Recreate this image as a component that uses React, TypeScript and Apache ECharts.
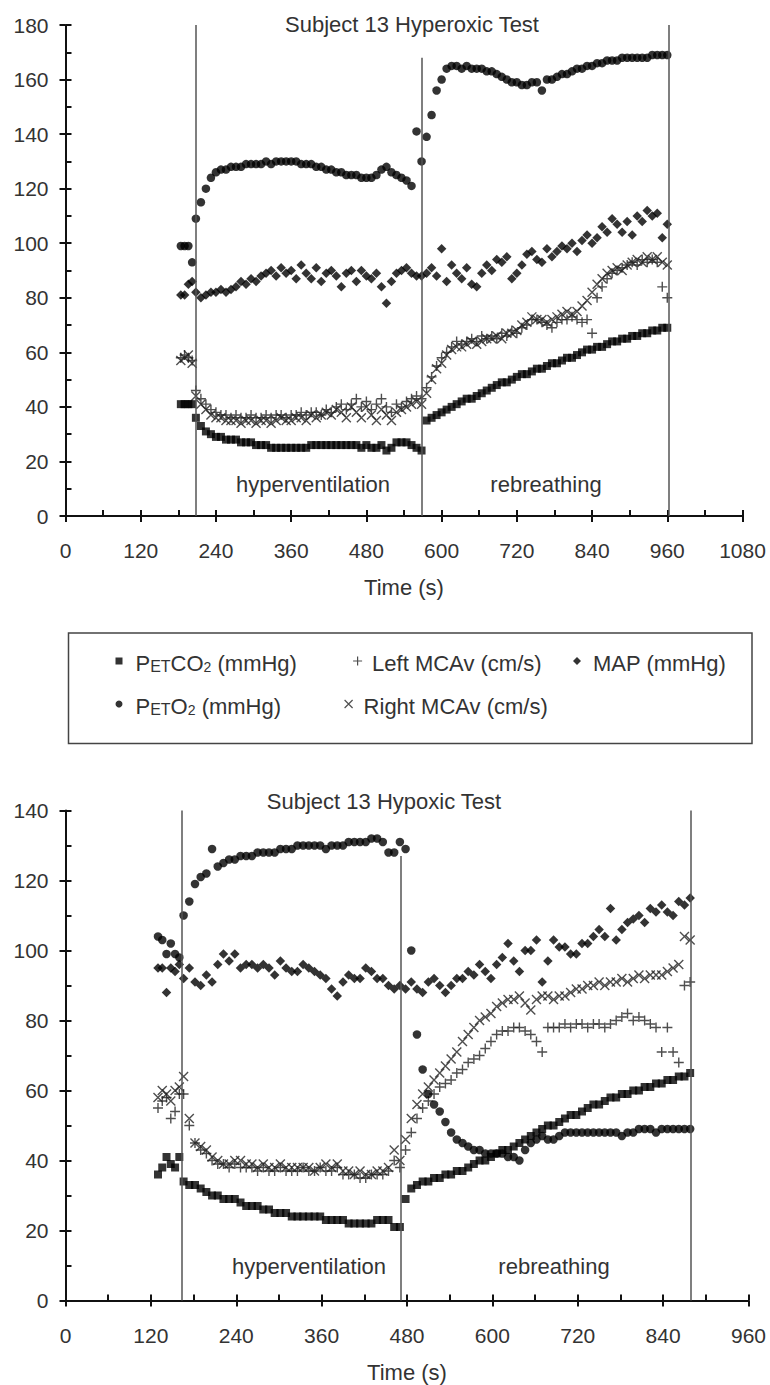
import { useEffect, useRef } from 'react';
import * as echarts from 'echarts';

const FONT = '"Liberation Sans", Arial, Helvetica, sans-serif';

// ---------------- Subject 13 Hyperoxic Test ----------------
const hyperTimes = [
  184, 190, 196, 202,
  208, 216, 224, 232, 240, 248, 256, 264, 272, 280,
  288, 296, 304, 312, 320, 328, 336, 344, 352, 360,
  368, 376, 384, 392, 400, 408, 416, 424, 432, 440,
  448, 456, 464, 472, 480, 488, 496, 504, 512, 520,
  528, 536, 544, 552, 560, 568, 576, 584, 592, 600,
  608, 616, 624, 632, 640, 648, 656, 664, 672, 680,
  688, 696, 704, 712, 720, 728, 736, 744, 752, 760,
  768, 776, 784, 792, 800, 808, 816, 824, 832, 840,
  848, 856, 864, 872, 880, 888, 896, 904, 912, 920,
  928, 936, 944, 952, 960,
];
const hyperPeto2 = [
  99, 99, 99, 93,
  109, 115, 120, 124, 126, 127, 127, 128, 128, 128,
  129, 129, 129, 129, 130, 129, 130, 130, 130, 130,
  130, 129, 129, 129, 128, 128, 127, 127, 126, 126,
  125, 125, 125, 124, 124, 124, 125, 127, 128, 126,
  125, 124, 123, 121, 141, 130, 139, 147, 156, 160,
  164, 165, 165, 164, 165, 164, 164, 164, 163, 163,
  162, 161, 160, 159, 159, 158, 158, 159, 159, 156,
  160, 160, 161, 162, 162, 163, 164, 164, 165, 165,
  166, 166, 167, 167, 167, 168, 168, 168, 168, 168,
  168, 169, 169, 169, 169,
];
const hyperMap = [
  81, 81, 85, 86,
  82, 80, 81, 82, 82, 83, 82, 83, 84, 86,
  85, 87, 86, 88, 89, 90, 88, 91, 89, 90,
  87, 92, 89, 87, 91, 86, 89, 90, 88, 84,
  89, 90, 86, 90, 88, 87, 89, 84, 78, 86,
  89, 90, 91, 89, 88, 88, 89, 91, 88, 98,
  86, 92, 89, 87, 91, 85, 84, 89, 92, 90,
  94, 93, 95, 87, 89, 92, 96, 97, 94, 93,
  98, 95, 97, 99, 98, 100, 97, 101, 103, 100,
  102, 106, 104, 109, 107, 104, 108, 103, 110, 108,
  112, 110, 111, 102, 107,
];
const hyperLeftMcav = [
  58, 59, 58, 57,
  46, 43, 41, 39, 38, 37, 37, 36, 37, 36,
  36, 37, 36, 36, 37, 36, 37, 37, 36, 37,
  37, 38, 37, 38, 38, 37, 39, 38, 40, 41,
  39, 41, 43, 40, 42, 39, 41, 43, 40, 38,
  41, 40, 42, 43, 44, 43, 47, 51, 55, 58,
  60, 62, 64, 63, 64, 65, 64, 66, 65, 66,
  65, 67, 66, 68, 67, 69, 70, 72, 72, 71,
  70, 69, 71, 72, 72, 73, 72, 71, 72, 67,
  80, 84, 87, 89, 90, 91, 92, 93, 92, 94,
  93, 94, 93, 84, 80,
];
const hyperRightMcav = [
  57, 58, 59, 56,
  44, 41, 39, 37, 36, 36, 35, 35, 35, 34,
  35, 35, 34, 35, 35, 34, 35, 36, 35, 35,
  36, 36, 35, 37, 36, 37, 38, 37, 39, 38,
  36, 40, 38, 36, 40, 37, 35, 39, 37, 35,
  38, 39, 40, 41, 42, 41, 45, 50, 54, 56,
  59, 61, 62, 62, 63, 64, 63, 64, 65, 65,
  66, 65, 67, 67, 68, 70, 71, 73, 72, 72,
  71, 72, 73, 74, 75, 74, 75, 77, 79, 82,
  85, 87, 89, 90, 91, 90, 92, 93, 94, 93,
  95, 94, 95, 93, 92,
];
const hyperPetco2 = [
  41, 41, 41, 41,
  36, 33, 31, 30, 29, 29, 28, 28, 28, 27,
  27, 27, 26, 26, 26, 25, 25, 25, 25, 25,
  25, 25, 25, 26, 26, 26, 26, 26, 26, 26,
  26, 26, 26, 25, 26, 25, 25, 26, 24, 25,
  27, 27, 27, 26, 25, 24, 35, 36, 37, 38,
  39, 40, 41, 42, 43, 43, 44, 45, 46, 47,
  48, 49, 49, 50, 51, 52, 52, 53, 54, 54,
  55, 56, 56, 57, 58, 58, 59, 60, 61, 61,
  62, 62, 63, 64, 64, 65, 65, 66, 66, 67,
  67, 68, 68, 69, 69,
];
const hyperPhaseLines = [207, 568, 963];
const hyperPhaseTops = [180, 168, 180];

// ---------------- Subject 13 Hypoxic Test ----------------
const hypoTimes = [
  130, 136, 142, 148, 154, 160,
  166, 174, 182, 190, 198, 206, 214, 222, 230, 238,
  246, 254, 262, 270, 278, 286, 294, 302, 310, 318,
  326, 334, 342, 350, 358, 366, 374, 382, 390, 398,
  406, 414, 422, 430, 438, 446, 454, 462, 470, 478,
  486, 494, 502, 510, 518, 526, 534, 542, 550, 558,
  566, 574, 582, 590, 598, 606, 614, 622, 630, 638,
  646, 654, 662, 670, 678, 686, 694, 702, 710, 718,
  726, 734, 742, 750, 758, 766, 774, 782, 790, 798,
  806, 814, 822, 830, 838, 846, 854, 862, 870, 878,
];
const hypoPeto2 = [
  104, 103, 99, 102, 99, 98,
  110, 114, 119, 121, 122, 129, 124, 125, 126, 126,
  127, 127, 127, 128, 128, 128, 128, 129, 129, 129,
  130, 130, 130, 130, 130, 129, 130, 130, 130, 131,
  131, 131, 131, 132, 132, 131, 128, 128, 131, 129,
  100, 76, 66, 59, 56, 54, 51, 48, 46, 45,
  44, 43, 43, 42, 42, 42, 42, 41, 41, 40,
  43, 45, 46, 47, 46, 46, 47, 48, 48, 48,
  48, 48, 48, 48, 48, 48, 48, 47, 48, 48,
  49, 49, 49, 48, 49, 49, 49, 49, 49, 49,
];
const hypoPetco2 = [
  36, 38, 41, 39, 38, 41,
  34, 33, 33, 32, 31, 30, 30, 29, 29, 29,
  28, 27, 27, 27, 26, 26, 25, 25, 25, 24,
  24, 24, 24, 24, 24, 23, 23, 23, 23, 22,
  22, 22, 22, 22, 23, 23, 23, 21, 21, 29,
  32, 33, 34, 34, 35, 35, 36, 36, 37, 37,
  38, 39, 40, 40, 41, 42, 43, 43, 44, 45,
  46, 47, 48, 49, 50, 50, 51, 52, 53, 53,
  54, 55, 56, 56, 57, 58, 58, 59, 59, 60,
  60, 61, 61, 62, 62, 63, 63, 64, 64, 65,
];
const hypoMap = [
  95, 95, 88, 95, 94, 96,
  92, 95, 91, 90, 93, 91, 96, 99, 97, 99,
  95, 96, 96, 95, 96, 95, 93, 97, 95, 94,
  94, 96, 95, 94, 93, 92, 89, 87, 91, 93,
  92, 92, 95, 94, 92, 92, 90, 89, 90, 89,
  91, 89, 88, 91, 92, 90, 88, 90, 92, 92,
  94, 93, 96, 94, 92, 96, 98, 102, 97, 94,
  100, 100, 103, 91, 97, 103, 101, 101, 99, 99,
  102, 102, 104, 106, 104, 112, 103, 106, 108, 109,
  110, 108, 112, 111, 113, 111, 110, 114, 113, 115,
];
const hypoLeftMcav = [
  55, 57, 58, 52, 54, 59,
  59, 50, 45, 43, 42, 40, 39, 39, 38, 39,
  38, 38, 38, 37, 38, 37, 37, 38, 37, 37,
  37, 38, 37, 37, 38, 37, 37, 38, 36, 36,
  36, 35, 35, 36, 36, 36, 37, 40, 38, 43,
  48, 52, 55, 57, 59, 61, 62, 63, 65, 66,
  68, 69, 70, 72, 74, 76, 77, 77, 78, 78,
  77, 76, 74, 71, 78, 78, 78, 79, 78, 79,
  79, 78, 79, 79, 78, 79, 80, 81, 82, 80,
  81, 80, 79, 78, 71, 78, 71, 68, 90, 91,
];
const hypoRightMcav = [
  58, 60, 59, 57, 60, 61,
  64, 52, 45, 44, 43, 41, 40, 39, 39, 40,
  40, 39, 39, 38, 39, 38, 38, 39, 38, 38,
  38, 38, 38, 37, 38, 39, 38, 39, 37, 37,
  36, 37, 36, 36, 37, 37, 38, 43, 40, 46,
  52, 56, 59, 61, 63, 65, 67, 69, 71, 74,
  76, 78, 80, 81, 82, 84, 85, 86, 86, 87,
  85, 83, 86, 87, 87, 86, 87, 87, 88, 89,
  89, 90, 90, 91, 90, 91, 91, 92, 91, 92,
  93, 92, 93, 93, 93, 94, 95, 96, 104, 103,
];
const hypoPhaseLines = [164, 471, 879];
const hypoPhaseTops = [140, 127, 140];

const NAME_PETCO2 = 'PETCO2 (mmHg)';
const NAME_LEFT = 'Left MCAv (cm/s)';
const NAME_MAP = 'MAP (mmHg)';
const NAME_PETO2 = 'PETO2 (mmHg)';
const NAME_RIGHT = 'Right MCAv (cm/s)';

const PLUS = 'path://M5,0L5,10M0,5L10,5';
const CROSS = 'path://M0,0L10,10M10,0L0,10';

const TEXT = '#333';
const AXIS = '#111';
const MARK_STROKE = '#222';

function pairs(times: number[], vals: number[]) {
  return times.map((t, i) => [t, vals[i]]);
}

function phaseMarkLine(lines: number[], tops: number[]) {
  return {
    silent: true,
    symbol: ['none', 'none'],
    label: { show: false },
    lineStyle: { color: '#555', width: 1.5, type: 'solid' },
    emphasis: { disabled: true },
    animation: false,
    data: lines.map((x, i) => [{ coord: [x, 0] }, { coord: [x, tops[i]] }]),
  };
}

function buildSeries(
  axisIndex: number,
  times: number[],
  petco2: number[],
  peto2: number[],
  map: number[],
  left: number[],
  right: number[],
  lines: number[],
  tops: number[]
) {
  const base = {
    type: 'scatter',
    xAxisIndex: axisIndex,
    yAxisIndex: axisIndex,
    animation: false,
    emphasis: { disabled: true },
  };
  const stroke = { color: 'transparent', borderColor: MARK_STROKE, borderWidth: 1.4 };
  return [
    { ...base, name: NAME_LEFT, symbol: PLUS, symbolSize: 10, itemStyle: stroke, data: pairs(times, left) },
    { ...base, name: NAME_RIGHT, symbol: CROSS, symbolSize: 9, itemStyle: stroke, data: pairs(times, right) },
    {
      ...base,
      name: NAME_PETCO2,
      symbol: 'rect',
      symbolSize: 8,
      itemStyle: { color: '#000' },
      data: pairs(times, petco2),
      markLine: phaseMarkLine(lines, tops),
    },
    { ...base, name: NAME_MAP, symbol: 'diamond', symbolSize: [9.5, 9.5], itemStyle: { color: '#000' }, data: pairs(times, map) },
    { ...base, name: NAME_PETO2, symbol: 'circle', symbolSize: 8.5, itemStyle: { color: '#000' }, data: pairs(times, peto2) },
  ];
}

function axisPair(gridIndex: number, max: number, interval: number, isX: boolean, name?: string, nameGap?: number) {
  const tickStyle = { color: AXIS, width: 2 };
  const position = isX ? 'bottom' : 'left';
  const primary: any = {
    type: 'value',
    gridIndex,
    position,
    offset: 0,
    min: 0,
    max,
    interval,
    axisLine: { show: true, onZero: false, lineStyle: { color: AXIS, width: 2 } },
    axisTick: { show: true, inside: false, length: 6, lineStyle: tickStyle },
    axisLabel: {
      show: true,
      color: TEXT,
      fontSize: 21,
      fontFamily: FONT,
      margin: isX ? 24 : 17,
      formatter: (v: number) => String(v),
    },
    splitLine: { show: false },
  };
  if (name) {
    primary.name = name;
    primary.nameLocation = 'middle';
    primary.nameGap = nameGap;
    primary.nameTextStyle = { color: TEXT, fontSize: 22, fontFamily: FONT };
  }
  const secondary: any = {
    type: 'value',
    gridIndex,
    position,
    offset: 0,
    min: 0,
    max,
    interval,
    axisLine: { show: false, onZero: false },
    axisTick: { show: true, inside: true, length: 6, lineStyle: tickStyle },
    minorTick: { show: true, splitNumber: 2, length: 6, lineStyle: tickStyle },
    axisLabel: { show: false },
    splitLine: { show: false },
  };
  return [primary, secondary];
}

const richStyles = {
  n: { fontSize: 22, fontFamily: FONT, color: TEXT, lineHeight: 26, verticalAlign: 'bottom' },
  s: { fontSize: 16, fontFamily: FONT, color: TEXT, lineHeight: 22, verticalAlign: 'bottom' },
  b: { fontSize: 14, fontFamily: FONT, color: TEXT, lineHeight: 3, verticalAlign: 'bottom' },
};

function legendLabel(name: string) {
  if (name === NAME_PETCO2) return '{n|P}{s|ET}{n|CO}{b|2}{n| (mmHg)}';
  if (name === NAME_PETO2) return '{n|P}{s|ET}{n|O}{b|2}{n| (mmHg)}';
  return '{n|' + name + '}';
}

function legendItem(name: string, icon: string, cx: number, cy: number, size: number, gap: number, stroked: boolean) {
  return {
    data: [
      {
        name,
        icon,
        itemStyle: stroked
          ? { color: 'transparent', borderColor: MARK_STROKE, borderWidth: 1.2 }
          : { color: '#000', borderWidth: 0 },
      },
    ],
    left: cx - size / 2,
    top: cy - 13,
    padding: 0,
    itemWidth: size,
    itemHeight: size,
    selectedMode: false,
    formatter: legendLabel,
    textStyle: { padding: [0, 0, 0, gap], rich: richStyles },
  };
}

export default function App() {
  const ref = useRef<HTMLDivElement>(null);

  useEffect(() => {
    if (!ref.current) return;
    const chart = echarts.init(ref.current, undefined, { renderer: 'svg' });

    const [hx0, hx1] = axisPair(0, 1080, 120, true, 'Time (s)', 60);
    const [hy0, hy1] = axisPair(0, 180, 20, false);
    const [px0, px1] = axisPair(1, 960, 120, true, 'Time (s)', 61);
    const [py0, py1] = axisPair(1, 140, 20, false);

    const label = (text: string, x: number, y: number) => ({
      type: 'text',
      x,
      y,
      silent: true,
      style: {
        text,
        fontSize: 22,
        fontFamily: FONT,
        fill: TEXT,
        align: 'center',
        verticalAlign: 'middle',
      },
    });

    const option: any = {
      animation: false,
      backgroundColor: '#fff',
      grid: [
        { left: 65.5, top: 25, width: 677, height: 491 },
        { left: 65.5, top: 810.5, width: 683, height: 490 },
      ],
      xAxis: [hx0, hx1, px0, px1],
      yAxis: [hy0, hy1, py0, py1],
      legend: [
        legendItem(NAME_PETCO2, 'rect', 119, 665, 7, 8, false),
        legendItem(NAME_LEFT, PLUS, 357, 665, 9, 5, true),
        legendItem(NAME_MAP, 'diamond', 577, 665, 8, 7, false),
        legendItem(NAME_PETO2, 'circle', 119, 708, 7, 8, false),
        legendItem(NAME_RIGHT, CROSS, 348, 708, 8, 6, true),
      ],
      graphic: [
        {
          type: 'rect',
          silent: true,
          shape: { x: 68.5, y: 633, width: 683.5, height: 110.5 },
          style: { fill: 'none', stroke: '#444', lineWidth: 1.5 },
        },
        label('Subject 13 Hyperoxic Test', 412, 24),
        label('hyperventilation', 313, 484),
        label('rebreathing', 546, 484),
        label('Subject 13 Hypoxic Test', 384, 801),
        label('hyperventilation', 309, 1266),
        label('rebreathing', 554, 1266),
      ],
      series: [
        ...buildSeries(0, hyperTimes, hyperPetco2, hyperPeto2, hyperMap, hyperLeftMcav, hyperRightMcav, hyperPhaseLines, hyperPhaseTops),
        ...buildSeries(2, hypoTimes, hypoPetco2, hypoPeto2, hypoMap, hypoLeftMcav, hypoRightMcav, hypoPhaseLines, hypoPhaseTops),
      ],
    };

    chart.setOption(option);
    return () => {
      chart.dispose();
    };
  }, []);

  return (
    <div
      ref={ref}
      style={{ position: 'absolute', left: 0, top: 0, width: 770, height: 1385, background: '#fff' }}
    />
  );
}
